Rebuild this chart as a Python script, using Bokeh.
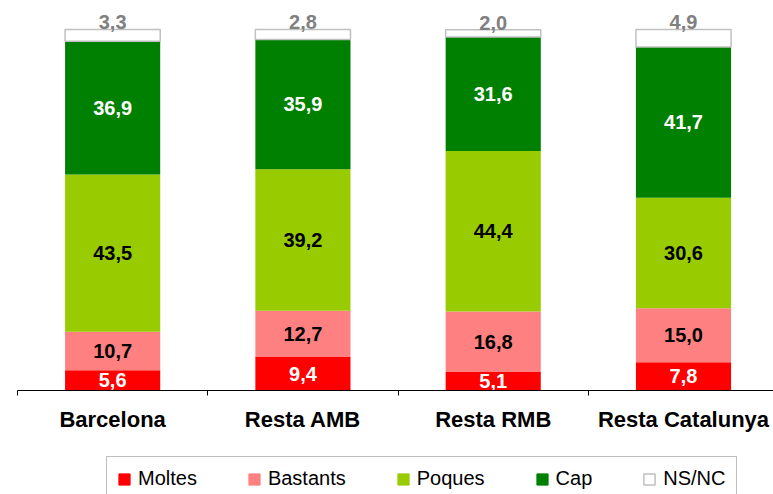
import numpy as np
from bokeh.plotting import figure
from bokeh.layouts import column
from bokeh.models import FixedTicker, Legend, LegendItem, Range1d, ColumnDataSource
from bokeh.core.properties import value
from bokeh.embed import file_html
from bokeh.resources import INLINE

categories = ["Barcelona", "Resta AMB", "Resta RMB", "Resta Catalunya"]
series = ["Moltes", "Bastants", "Poques", "Cap", "NS/NC"]
moltes = [5.6, 9.4, 5.1, 7.8]
bastants = [10.7, 12.7, 16.8, 15.0]
poques = [43.5, 39.2, 44.4, 30.6]
cap = [36.9, 35.9, 31.6, 41.7]
nsnc = [3.3, 2.8, 2.0, 4.9]

fills = ["#FF0000", "#FF8080", "#99CC00", "#008000", "#FFFFFF"]
lines = [None, None, None, None, "#C0C0C0"]
label_colors = ["#FFFFFF", "#000000", "#000000", "#FFFFFF", "#808080"]

FONT = value("Liberation Sans")

p = figure(width=773, height=450, x_range=Range1d(0, 3.973), y_range=Range1d(0, 108.0),
           output_backend="svg", toolbar_location=None, y_axis_location=None,
           min_border_left=17, min_border_right=0, min_border_top=0, min_border_bottom=60)
p.outline_line_color = None
p.xgrid.visible = False
p.ygrid.visible = False

# legend strip (its renderers share the same data, but its y-range keeps them out of view)
p2 = figure(width=773, height=44, x_range=Range1d(0, 1), y_range=Range1d(1000, 1001),
            output_backend="svg", toolbar_location=None,
            x_axis_location=None, y_axis_location=None,
            min_border_left=0, min_border_right=0, min_border_top=0, min_border_bottom=0)
p2.outline_line_color = None
p2.xgrid.visible = False
p2.ygrid.visible = False

xs = np.arange(len(categories)) + 0.5
data = [moltes, bastants, poques, cap, nsnc]
bottom = np.zeros(len(categories))
items = []
for name, vals, fc, lc, tc in zip(series, data, fills, lines, label_colors):
    vals = np.array(vals)
    top = bottom + vals
    src = ColumnDataSource(dict(x=xs, bottom=bottom, top=top,
                                mid=(bottom + top) / 2,
                                lab=[f"{v:.1f}".replace(".", ",") for v in vals]))
    p.vbar(x="x", bottom="bottom", top="top", width=0.5, source=src,
           fill_color=fc, line_color=lc, line_width=1.5 if lc else 0)
    r = p2.vbar(x="x", bottom="bottom", top="top", width=0.5, source=src,
                fill_color=fc, line_color=lc if lc else fc, line_width=1.5 if lc else 1)
    items.append(LegendItem(label=name, renderers=[r]))
    if name == "NS/NC":
        p.text(x="x", y="top", text="lab", source=src, text_align="center",
               text_baseline="middle", y_offset=-7, text_font=FONT,
               text_font_style="bold", text_font_size="20px", text_color=tc)
    else:
        p.text(x="x", y="mid", text="lab", source=src, text_align="center",
               text_baseline="middle", text_font=FONT,
               text_font_style="bold", text_font_size="20px", text_color=tc)
    bottom = top

ax = p.xaxis[0]
ax.ticker = FixedTicker(ticks=list(xs), minor_ticks=list(range(len(categories) + 1)))
ax.major_label_overrides = {float(x): c for x, c in zip(xs, categories)}
ax.major_tick_line_color = None
ax.major_tick_out = 0
ax.major_tick_in = 0
ax.minor_tick_in = 0
ax.minor_tick_out = 5
ax.minor_tick_line_color = "#000000"
ax.axis_line_color = "#000000"
ax.major_label_standoff = 11
ax.major_label_text_font = "Liberation Sans"
ax.major_label_text_font_style = "bold"
ax.major_label_text_font_size = "22px"
ax.major_label_text_color = "#000000"

legend = Legend(items=items, orientation="horizontal", location=(89, -7),
                spacing=50, padding=10, glyph_width=14, glyph_height=14,
                label_standoff=7, label_text_font="Liberation Sans",
                label_text_font_size="20px", label_text_color="#000000",
                border_line_color="#808080", border_line_width=1, margin=0)
p2.add_layout(legend, "center")

layout = column(p, p2, spacing=0)
open("out.html", "w").write(file_html(layout, INLINE))
